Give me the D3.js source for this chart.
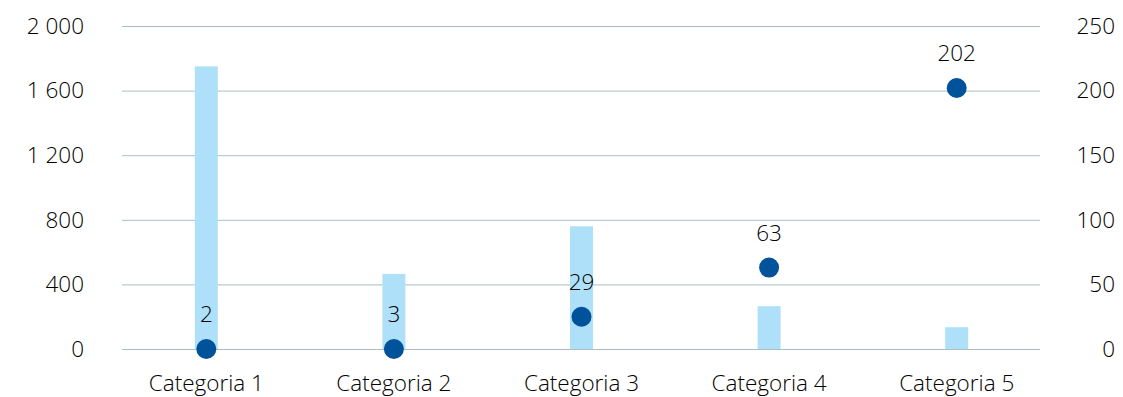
<!DOCTYPE html>
<html>
<head>
<meta charset="utf-8">
<script src="https://cdn.jsdelivr.net/npm/d3@7"></script>
<style>
  html,body{margin:0;padding:0;background:#fff;}
  svg text{font-family:"Open Sans","Noto Sans",sans-serif;fill:#000;font-weight:300;}
</style>
</head>
<body>
<svg id="chart" width="1123" height="397"></svg>
<script>
// categorie, barre (asse sx), punti (asse dx)
var categories=["Categoria 1","Categoria 2","Categoria 3","Categoria 4","Categoria 5"];
var barValues=[1750,465,760,265,135];
var dotValues=[0,0,25,63,202];
var dotLabels=["2","3","29","63","202"];
var leftTicks=[0,400,800,1200,1600,2000];
var rightTicks=[0,50,100,150,200,250];

var plotTop=26,plotBottom=349,gridX0=122,gridX1=1040;
var FS="22.5px";

var svg=d3.select("#chart");

var x=d3.scaleBand().domain(categories).range([112.5,1050.5]).padding(0);
var yL=d3.scaleLinear().domain([0,2000]).range([plotBottom,plotTop]);
var yR=d3.scaleLinear().domain([0,250]).range([plotBottom,plotTop]);

function spaceFmt(v){return d3.format(",")(v).replace(/,/g," ");}

// griglia
svg.append("g").selectAll("line").data(leftTicks).enter().append("line")
  .attr("x1",gridX0).attr("x2",gridX1)
  .attr("y1",function(d){return yL(d)+0.5;}).attr("y2",function(d){return yL(d)+0.5;})
  .attr("stroke","#a9bfbf").attr("stroke-width",1);

// barre
var bw=23;
svg.append("g").selectAll("rect").data(categories).enter().append("rect")
  .attr("x",function(d){return x(d)+x.bandwidth()/2-bw/2;})
  .attr("y",function(d,i){return yL(barValues[i]);})
  .attr("width",bw)
  .attr("height",function(d,i){return yL(0)-yL(barValues[i]);})
  .attr("fill","#aee0f9");

// assi (solo etichette)
var axL=d3.axisLeft(yL).tickValues(leftTicks).tickFormat(spaceFmt).tickSize(0).tickPadding(0);
var gL=svg.append("g").attr("transform","translate(84,0)").call(axL);
var axR=d3.axisRight(yR).tickValues(rightTicks).tickSize(0).tickPadding(0);
var gR=svg.append("g").attr("transform","translate(1077,0)").call(axR);
gR.selectAll("text").attr("text-anchor","end").attr("x",38);
var axX=d3.axisBottom(x).tickSize(0).tickPadding(0);
var gX=svg.append("g").attr("transform","translate(0,"+plotBottom+")").call(axX);
gX.selectAll("text").attr("dy",0).attr("y",41.5);
[gL,gR,gX].forEach(function(g){
  g.select(".domain").remove();
  g.selectAll("text").style("font-size",FS).style("fill","#000")
   .style("font-family",'"Open Sans","Noto Sans",sans-serif').style("font-weight",300);
});

// punti
svg.append("g").selectAll("circle").data(categories).enter().append("circle")
  .attr("cx",function(d){return x(d)+x.bandwidth()/2;})
  .attr("cy",function(d,i){return yR(dotValues[i]);})
  .attr("r",10)
  .attr("fill","#00529b");

svg.append("g").selectAll("text").data(categories).enter().append("text")
  .attr("x",function(d){return x(d)+x.bandwidth()/2;})
  .attr("y",function(d,i){return yR(dotValues[i])-27;})
  .attr("text-anchor","middle")
  .style("font-size",FS)
  .text(function(d,i){return dotLabels[i];});
</script>
</body>
</html>
